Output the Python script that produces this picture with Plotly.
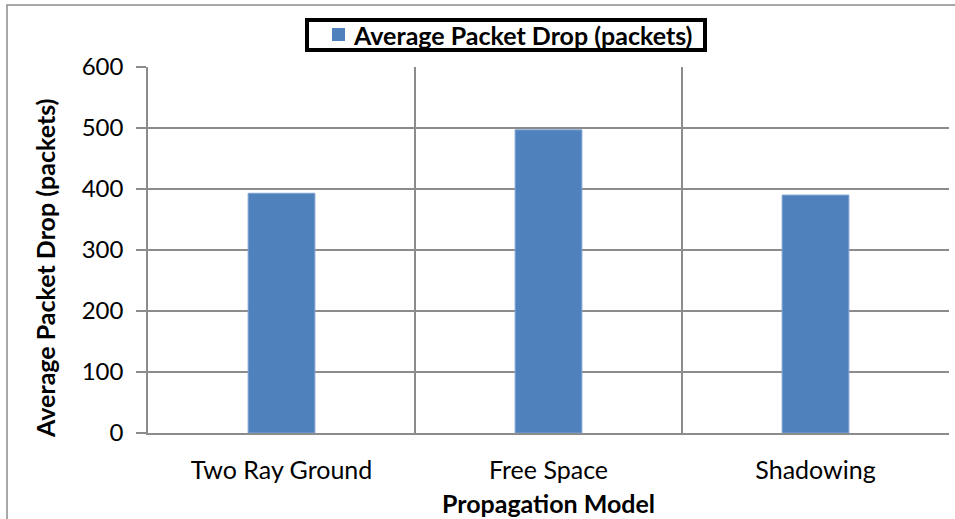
import plotly.graph_objects as go

# Average packet drop per propagation model
models = ["Two Ray Ground", "Free Space", "Shadowing"]
packet_drop = [393, 497, 390]
series_name = "Average Packet Drop (packets)"
y_ticks = [0, 100, 200, 300, 400, 500, 600]

W, H = 955, 519
ML, MR, MT, MB = 148, 6, 67, 86
pw, ph = W - ML - MR, H - MT - MB

grid = "#8c8c8c"
bar_color = "#4F81BD"
font = "Lato"

fig = go.Figure(
    go.Bar(
        x=models,
        y=packet_drop,
        name=series_name,
        width=0.25,
        marker=dict(color=bar_color, line=dict(color="#7fa3d1", width=1)),
        showlegend=False,
    )
)

def px_x(p):
    return (p - ML) / pw

def px_y(p):
    return (H - MB - p) / ph

# outer chart border
fig.add_shape(
    type="rect", xref="paper", yref="paper",
    x0=px_x(7), x1=px_x(962), y0=px_y(5), y1=px_y(530),
    line=dict(color=grid, width=1.5), fillcolor="rgba(0,0,0,0)", layer="below",
)

# legend box with key swatch
fig.add_shape(
    type="rect", xref="paper", yref="paper",
    x0=px_x(307), x1=px_x(705), y0=px_y(20), y1=px_y(50),
    line=dict(color="black", width=4), fillcolor="white",
)
fig.add_shape(
    type="rect", xref="paper", yref="paper",
    x0=px_x(332), x1=px_x(345), y0=px_y(28), y1=px_y(41),
    line=dict(width=0), fillcolor=bar_color,
)
fig.add_annotation(
    text=series_name, xref="paper", yref="paper",
    x=px_x(351), y=px_y(35), xanchor="left", yanchor="middle", showarrow=False,
    font=dict(family=font, size=25, color="black", weight="bold"),
)

# y-axis title
fig.add_annotation(
    text=series_name, xref="paper", yref="paper",
    x=px_x(45), y=px_y(269), xanchor="center", yanchor="middle", showarrow=False,
    textangle=-90,
    font=dict(family=font, size=25, color="black", weight="bold"),
)

fig.update_layout(
    width=W, height=H,
    margin=dict(l=ML, r=MR, t=MT, b=MB),
    paper_bgcolor="white", plot_bgcolor="white",
    font=dict(family=font, color="black"),
    bargap=0.75,
    xaxis=dict(
        type="category", tickson="boundaries", showgrid=True, gridcolor=grid, gridwidth=1.5,
        showline=True, linecolor=grid, linewidth=1.5, ticks="",
        ticklabelstandoff=14,
        tickfont=dict(family=font, size=25, color="black"),
        title=dict(text="Propagation Model", font=dict(family=font, size=25, color="black", weight="bold"), standoff=13),
    ),
    yaxis=dict(
        range=[0, 600], tickvals=y_ticks, showgrid=True, gridcolor=grid, gridwidth=1.5,
        showline=True, linecolor=grid, linewidth=1.5, zeroline=False,
        ticks="outside", ticklen=10, tickcolor=grid, tickwidth=1.5,
        ticklabelstandoff=8,
        tickfont=dict(family=font, size=24, color="black"),
    ),
)

fig.write_html("out.html")
